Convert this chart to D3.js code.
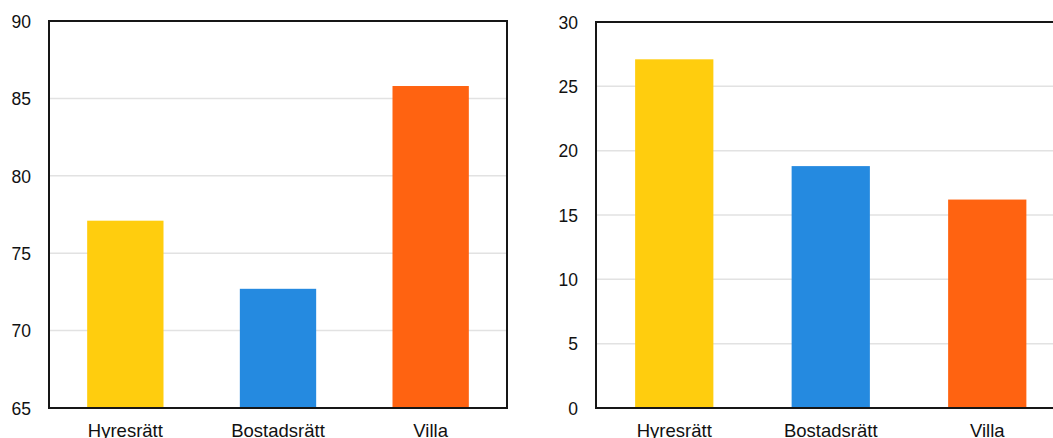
<!DOCTYPE html>
<html>
<head>
<meta charset="utf-8">
<script src="https://cdn.jsdelivr.net/npm/d3@7"></script>
<style>
  html, body { margin: 0; padding: 0; background: #fff; }
  svg { display: block; }
  text { font-family: "Liberation Sans", Arial, sans-serif; fill: #111; }
</style>
</head>
<body>
<svg id="chart" width="1053" height="438"></svg>
<script>
// Housing type categories and their colours
const categories = ["Hyresrätt", "Bostadsrätt", "Villa"];
const barColors = ["#FFCD0E", "#258AE0", "#FF6311"];

// Left panel values and ticks
const leftValues = [77.1, 72.7, 85.8];
const leftDomain = [65, 90];
const leftTicks = [65, 70, 75, 80, 85, 90];

// Right panel values and ticks
const rightValues = [27.1, 18.8, 16.2];
const rightDomain = [0, 30];
const rightTicks = [0, 5, 10, 15, 20, 25, 30];

const svg = d3.select("#chart");

function panel(opts) {
  const { x0, x1, y0, y1, domain, ticks, values, rightBorder } = opts;
  const g = svg.append("g");

  const x = d3.scaleBand()
    .domain(categories)
    .range([x0, x1])
    .paddingInner(0.5)
    .paddingOuter(0.25);

  const y = d3.scaleLinear().domain(domain).range([y1, y0]);

  // horizontal gridlines
  g.append("g")
    .selectAll("line")
    .data(ticks.filter(t => t !== domain[0] && t !== domain[1]))
    .join("line")
    .attr("x1", x0).attr("x2", x1)
    .attr("y1", d => y(d)).attr("y2", d => y(d))
    .attr("stroke", "#e2e2e2")
    .attr("stroke-width", 1.5);

  // bars
  g.append("g")
    .selectAll("rect")
    .data(categories)
    .join("rect")
    .attr("x", d => x(d))
    .attr("width", x.bandwidth())
    .attr("y", (d, i) => y(values[i]))
    .attr("height", (d, i) => y(domain[0]) - y(values[i]))
    .attr("fill", (d, i) => barColors[i]);

  // y axis labels
  const yAxis = d3.axisLeft(y).tickValues(ticks).tickSize(0).tickPadding(18);
  const ya = g.append("g").attr("transform", `translate(${x0},0)`).call(yAxis);
  ya.select(".domain").remove();
  ya.selectAll("text")
    .attr("font-size", "17.5px")
    .attr("font-family", "Liberation Sans, Arial, sans-serif")
    .attr("fill", "#111")
    .attr("dy", "0.36em");

  // x axis labels
  const xAxis = d3.axisBottom(x).tickSize(0).tickPadding(0);
  const xa = g.append("g").attr("transform", `translate(0,${y1})`).call(xAxis);
  xa.select(".domain").remove();
  xa.selectAll("text")
    .attr("font-size", "18.5px")
    .attr("font-family", "Liberation Sans, Arial, sans-serif")
    .attr("fill", "#111")
    .attr("dy", null)
    .attr("y", 28.5);

  // frame
  const frame = g.append("g")
    .attr("stroke", "#161616")
    .attr("stroke-width", 2)
    .attr("fill", "none");
  frame.append("path")
    .attr("d", rightBorder
      ? `M${x0},${y0}H${x1}V${y1}H${x0}Z`
      : `M${x1},${y0}H${x0}V${y1}H${x1}`);
}

panel({
  x0: 49, x1: 507, y0: 21, y1: 408,
  domain: leftDomain, ticks: leftTicks, values: leftValues, rightBorder: true
});

panel({
  x0: 596, x1: 1065.5, y0: 22, y1: 408,
  domain: rightDomain, ticks: rightTicks, values: rightValues, rightBorder: true
});
</script>
</body>
</html>
